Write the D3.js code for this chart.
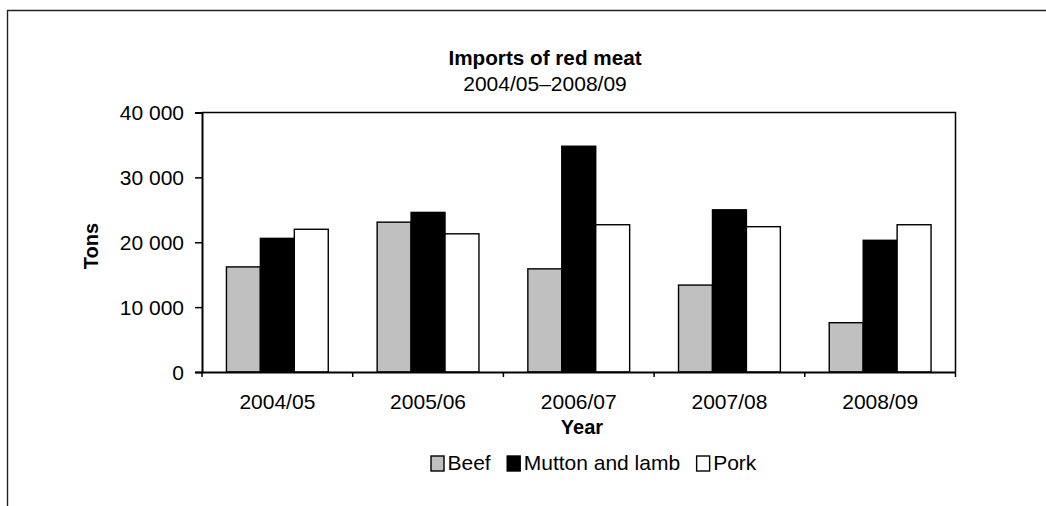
<!DOCTYPE html>
<html>
<head>
<meta charset="utf-8">
<script src="https://cdn.jsdelivr.net/npm/d3@7"></script>
<style>
  html, body { margin: 0; padding: 0; background: #fff; }
  svg { display: block; }
  text { font-family: "Liberation Sans", Arial, Helvetica, sans-serif; fill: #000; }
</style>
</head>
<body>
<svg id="chart" width="1046" height="506"></svg>
<script>
// ---- data ----
const categories = ["2004/05", "2005/06", "2006/07", "2007/08", "2008/09"];
const seriesNames = ["Beef", "Mutton and lamb", "Pork"];
const beef = [16200, 23100, 15900, 13400, 7600];
const mutton = [20600, 24600, 34800, 25000, 20300];
const pork = [22000, 21300, 22700, 22400, 22700];
const yTicks = [0, 10000, 20000, 30000, 40000];
const seriesColors = ["#c0c0c0", "#000000", "#ffffff"];
const titleText = "Imports of red meat";
const subtitleText = "2004/05\u20132008/09";
const xTitle = "Year";
const yTitle = "Tons";

const seriesValues = [beef, mutton, pork];

// ---- layout ----
const svg = d3.select("#chart");
const plot = { left: 202, top: 112.5, right: 955.5, bottom: 372 };
const fs = 21;

// outer frame (cropped: only top & left visible)
svg.append("path")
  .attr("d", "M7.5,506 L7.5,10.5 L1046,10.5")
  .attr("fill", "none").attr("stroke", "#222").attr("stroke-width", 1.4);

const x = d3.scaleBand().domain(categories).range([plot.left, plot.right]).paddingInner(0).paddingOuter(0);
const xs = d3.scaleBand().domain(seriesNames).range([0, x.bandwidth()]).paddingInner(0).paddingOuter(0.72);
const y = d3.scaleLinear().domain([0, 40000]).range([plot.bottom, plot.top]);

const fmt = v => d3.format(",")(v).replace(/,/g, " ");

// plot area border (top and right)
svg.append("path")
  .attr("d", `M${plot.left},${plot.top} L${plot.right},${plot.top} L${plot.right},${plot.bottom}`)
  .attr("fill", "none").attr("stroke", "#000").attr("stroke-width", 1.5);

// bars
const rows = categories.map((c, i) => ({ c, vals: seriesNames.map((s, j) => ({ s, j, v: seriesValues[j][i] })) }));
const g = svg.append("g");
g.selectAll("g.cat").data(rows).join("g")
  .attr("transform", d => `translate(${x(d.c)},0)`)
  .selectAll("rect").data(d => d.vals).join("rect")
  .attr("x", d => xs(d.s))
  .attr("y", d => y(d.v))
  .attr("width", xs.bandwidth())
  .attr("height", d => y(0) - y(d.v))
  .attr("fill", d => seriesColors[d.j])
  .attr("stroke", "#000").attr("stroke-width", 1.4);

// y axis
const yAxis = d3.axisLeft(y).tickValues(yTicks).tickFormat(fmt).tickSize(7).tickPadding(11);
const ya = svg.append("g").attr("transform", `translate(${plot.left},0)`).call(yAxis);
ya.select(".domain").attr("stroke", "#000").attr("stroke-width", 2);
ya.selectAll(".tick line").attr("stroke", "#000").attr("stroke-width", 1.5);
ya.selectAll(".tick text").attr("font-size", fs).attr("font-family", "Liberation Sans, Arial, sans-serif").attr("fill", "#000").attr("dy", "0.35em");

// x axis
const xAxis = d3.axisBottom(x).tickSize(0).tickPadding(0);
const xa = svg.append("g").attr("transform", `translate(0,${plot.bottom})`).call(xAxis);
xa.select(".domain").attr("stroke", "#000").attr("stroke-width", 2);
xa.selectAll(".tick text").attr("font-size", fs).attr("font-family", "Liberation Sans, Arial, sans-serif")
  .attr("fill", "#000").attr("y", 36.5).attr("dy", 0);
// boundary ticks between categories
const bounds = categories.map(c => x(c)).concat([x(categories[categories.length - 1]) + x.bandwidth()]);
svg.append("g").selectAll("line").data(bounds).join("line")
  .attr("x1", d => d).attr("x2", d => d)
  .attr("y1", plot.bottom).attr("y2", plot.bottom + 5)
  .attr("stroke", "#000").attr("stroke-width", 1.5);

// titles
svg.append("text").attr("x", 545).attr("y", 65).attr("text-anchor", "middle")
  .attr("font-size", 20.7).attr("font-weight", "bold").text(titleText);
svg.append("text").attr("x", 545).attr("y", 91).attr("text-anchor", "middle")
  .attr("font-size", fs).text(subtitleText);
svg.append("text").attr("x", 582).attr("y", 434).attr("text-anchor", "middle")
  .attr("font-size", 20).attr("font-weight", "bold").text(xTitle);
svg.append("text").attr("transform", "translate(98,246) rotate(-90)").attr("text-anchor", "middle")
  .attr("font-size", 20).attr("font-weight", "bold").text(yTitle);

// legend
const leg = svg.append("g");
let lx = 431;
seriesNames.forEach((s, j) => {
  leg.append("rect").attr("x", lx).attr("y", 456).attr("width", 13).attr("height", 15)
    .attr("fill", seriesColors[j]).attr("stroke", "#000").attr("stroke-width", 1.4);
  const t = leg.append("text").attr("x", lx + 16.5).attr("y", 470).attr("font-size", fs).text(s);
  lx = lx + 16.5 + t.node().getComputedTextLength() + 16.5;
});
</script>
</body>
</html>
